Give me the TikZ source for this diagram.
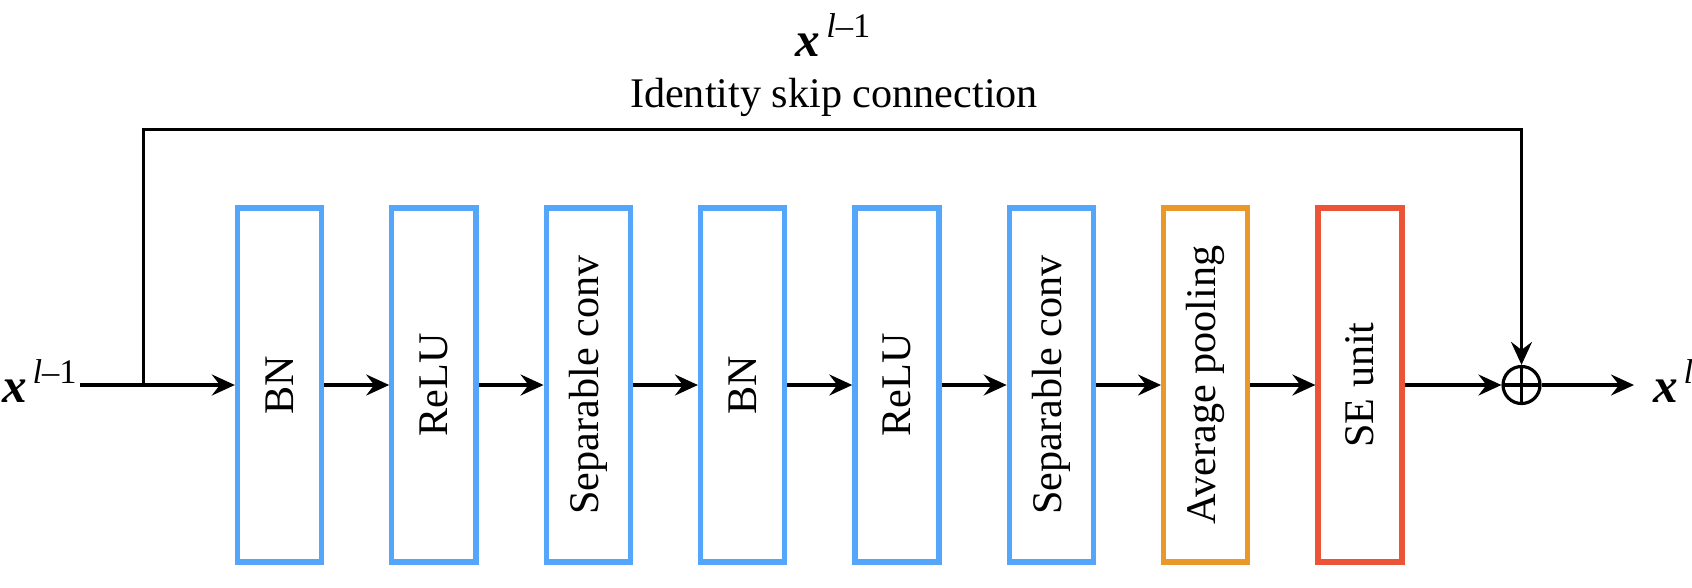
\documentclass[tikz,border=0pt]{standalone}
\usepackage{amsmath}
\usepackage{amssymb}
\usepackage{fontspec}
\setmainfont{Liberation Serif}
\usetikzlibrary{arrows.meta,positioning,shadows}
\definecolor{blkblue}{RGB}{84,166,250}
\definecolor{blkorange}{RGB}{235,152,42}
\definecolor{blkred}{RGB}{236,84,56}
% bold italic x with a superscript
\newcommand{\xlbl}[1]{$\textbf{\textit{x}}^{\,\text{\textit{l}#1}}$}
\tikzset{
    %Define standard arrow tip
    >={Stealth[length=2.3mm,width=2.1mm,inset=0.8mm]},
    %Define style for layer boxes
    layer/.style={
           rectangle,
           draw=blkblue, line width=1.5pt,
           fill=white,
           minimum width=0.84cm,
           minimum height=3.54cm,
           inner sep=0pt,
           font=\fontsize{12}{14}\selectfont,
           drop shadow={opacity=0.18, shadow xshift=0.4pt, shadow yshift=-0.8pt}},
    % Define style for the sum node
    sum/.style={
           circle,
           draw=black, line width=0.9pt,
           minimum size=0.37cm,
           inner sep=0pt,
           path picture={\draw[line width=0.9pt]
              (path picture bounding box.north) -- (path picture bounding box.south)
              (path picture bounding box.west) -- (path picture bounding box.east);}},
    lbl/.style={
           font=\fontsize{12}{14}\selectfont,
           inner sep=1pt},
    xl/.style={
           font=\fontsize{14}{16}\selectfont,
           inner sep=1pt}
}
\begin{document}
\begin{tikzpicture}[x=0.01cm,y=0.01cm,line width=0.9pt,node distance=0.65cm]
\useasboundingbox (0,0) rectangle (1692,587);
\node[layer](bn1) at (279.5,202){\rotatebox{90}{BN}};
\node[layer, right=of bn1](relu1){\rotatebox{90}{ReLU}};
\node[layer, right=of relu1](conv1){\rotatebox{90}{Separable conv}};
\node[layer, right=of conv1](bn2){\rotatebox{90}{BN}};
\node[layer, right=of bn2](relu2){\rotatebox{90}{ReLU}};
\node[layer, right=of relu2](conv2){\rotatebox{90}{Separable conv}};
\node[layer, draw=blkorange, right=of conv2](pool){\rotatebox{90}{Average pooling}};
\node[layer, draw=blkred, right=of pool](se){\rotatebox{90}{SE unit}};
\node[sum](add) at (1521.5,202){};

\coordinate (in) at (80,202);
\coordinate (split) at (143.5,202);
\coordinate (top) at (143.5,457.5);
\coordinate (out) at (1634,202);
\node[xl, anchor=west](xin) at (-3,206){\xlbl{\textendash1}};
\node[xl, anchor=west](xout) at (1648,206){\xlbl{}};
\node[lbl](skip) at (834,490){Identity skip connection};
\node[xl](xskip) at (834,552){\xlbl{\textendash1}};

\draw[->] (in) -- (bn1);
\foreach \a/\b in {bn1/relu1, relu1/conv1, conv1/bn2, bn2/relu2, relu2/conv2, conv2/pool, pool/se, se/add}
    \draw[->] (\a) -- (\b);
\draw[->] (add) -- (out);
\draw[->] (split) -- (top) -| (add);
\end{tikzpicture}
\end{document}
